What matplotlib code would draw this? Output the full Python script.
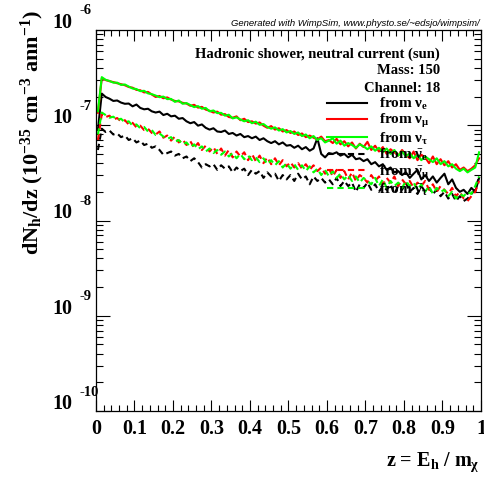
#!/usr/bin/env python3
"""
WimpSim-style plot: hadronic shower spectrum dN_h/dz for neutral current
events from the sun, split by neutrino flavour.
"""

import numpy as np
import matplotlib
matplotlib.use("Agg")
import matplotlib.pyplot as plt
from matplotlib.ticker import FixedLocator, NullFormatter
from matplotlib.transforms import blended_transform_factory, offset_copy

plt.rcParams["font.family"] = ["Liberation Serif", "DejaVu Serif"]
plt.rcParams["font.weight"] = "bold"
plt.rcParams["mathtext.fontset"] = "custom"
plt.rcParams["mathtext.rm"] = "Liberation Serif:bold"
plt.rcParams["mathtext.it"] = "Liberation Serif:bold"
plt.rcParams["mathtext.bf"] = "Liberation Serif:bold"

# z bin centres (100 bins from 0 to 1)
z = np.arange(100) * 0.01 + 0.005

# dN/dz values in units of 1e-8 (10^-35 cm^-3 ann^-1)
scale = 1e-8

nu_e = [9.0, 21.5, 19.8, 19.0, 18.0, 18.2, 17.3, 16.8, 16.9, 15.8,
        16.5, 15.2, 14.7, 14.9, 14.0, 13.6, 13.9, 12.8, 13.2, 12.4,
        12.6, 11.7, 11.9, 11.0, 10.5, 10.8, 9.9, 10.2, 9.4, 9.0,
        9.3, 8.6, 8.5, 8.8, 8.1, 8.3, 7.8, 8.1, 7.5, 7.7,
        7.3, 7.6, 7.0, 7.3, 6.8, 6.5, 6.8, 6.3, 6.6, 6.1,
        6.2, 5.8, 6.1, 5.6, 5.9, 5.4, 5.7, 7.3, 5.0, 4.6,
        5.1, 5.0, 5.2, 4.8, 5.0, 4.6, 4.9, 4.4, 4.5, 4.2,
        4.4, 3.9, 4.1, 3.7, 3.9, 3.4, 3.6, 3.2, 3.3, 3.0,
        3.2, 2.8, 3.1, 3.4, 2.7, 3.0, 2.6, 2.9, 2.5, 2.8,
        3.1, 2.4, 2.7, 2.2, 2.0, 2.1, 1.9, 2.2, 2.0, 2.8]

nu_mu = [13.5, 31.0, 29.8, 29.0, 28.4, 27.6, 27.0, 26.3, 25.2, 24.8,
         23.5, 23.3, 22.1, 22.4, 21.0, 19.8, 20.3, 19.2, 19.6, 18.6,
         18.0, 17.8, 17.2, 16.9, 16.0, 16.4, 15.3, 15.6, 14.6, 14.2,
         13.6, 13.9, 12.9, 13.1, 12.2, 12.0, 12.4, 11.3, 11.7, 10.8,
         11.0, 10.4, 10.7, 9.9, 9.4, 9.8, 9.0, 9.3, 8.6, 8.9,
         8.3, 8.6, 7.9, 8.2, 7.5, 7.8, 7.4, 7.1, 7.6, 6.8,
         7.0, 6.5, 7.2, 6.3, 6.8, 6.0, 6.6, 5.7, 6.4, 5.9,
         6.7, 5.5, 6.1, 5.3, 5.9, 5.0, 5.6, 5.2, 4.8, 5.5,
         4.9, 4.5, 5.3, 4.3, 4.9, 4.6, 4.0, 4.7, 3.9, 4.4,
         3.8, 4.2, 3.6, 3.9, 3.4, 3.6, 3.3, 3.5, 3.8, 4.5]

nu_tau = [14.0, 32.0, 30.0, 29.2, 28.0, 28.0, 26.5, 26.8, 25.5, 24.3,
          24.0, 22.8, 23.0, 21.6, 21.2, 20.5, 19.7, 20.0, 18.8, 18.9,
          17.6, 18.2, 16.8, 17.1, 16.3, 15.5, 15.9, 14.9, 15.2, 14.0,
          14.3, 13.4, 13.5, 12.6, 12.9, 11.8, 12.1, 11.5, 11.0, 11.3,
          10.5, 10.9, 10.1, 10.3, 9.6, 9.2, 9.5, 8.8, 9.1, 8.4,
          8.7, 8.1, 8.4, 7.7, 8.0, 7.3, 7.7, 7.0, 7.3, 6.6,
          6.9, 7.3, 6.4, 6.9, 6.1, 6.5, 6.2, 5.8, 6.3, 6.0,
          5.6, 6.0, 5.4, 5.8, 5.2, 5.7, 5.0, 5.5, 4.8, 5.3,
          4.7, 5.1, 4.5, 4.9, 4.3, 4.7, 4.4, 4.1, 4.5, 3.9,
          4.2, 3.7, 3.9, 3.5, 3.3, 3.5, 3.2, 3.4, 3.6, 5.2]

nubar_e = [5.5, 9.2, 8.5, 8.8, 8.0, 8.2, 7.5, 7.8, 7.0, 7.3,
           6.6, 6.9, 6.2, 6.4, 5.8, 6.0, 5.5, 4.9, 5.1, 5.3,
           4.8, 5.0, 4.5, 4.7, 4.2, 4.5, 4.1, 3.6, 3.9, 3.7,
           3.9, 3.4, 3.8, 3.5, 3.7, 3.2, 3.6, 3.3, 3.5, 3.0,
           3.4, 3.1, 3.3, 2.8, 3.2, 2.9, 3.1, 2.6, 3.0, 2.7,
           3.0, 2.6, 3.1, 2.7, 2.9, 2.4, 2.9, 2.6, 2.8, 2.5,
           2.7, 2.4, 2.8, 2.3, 2.6, 2.3, 2.5, 2.0, 2.4, 2.2,
           2.5, 2.1, 2.4, 2.0, 2.3, 2.1, 2.4, 1.9, 2.3, 2.1,
           2.5, 2.0, 2.2, 1.9, 2.3, 2.0, 2.2, 1.9, 2.1, 1.8,
           2.0, 1.7, 1.9, 1.6, 1.8, 1.6, 1.7, 1.9, 2.1, 2.9]

nubar_mu = [7.0, 13.0, 12.2, 12.6, 11.5, 11.9, 11.0, 11.3, 10.2, 10.6,
            9.5, 9.9, 8.9, 9.2, 8.3, 8.0, 8.6, 7.4, 7.8, 6.9,
            7.6, 6.6, 7.1, 6.2, 6.8, 5.8, 6.5, 5.5, 6.1, 5.3,
            5.9, 5.0, 5.7, 4.8, 5.5, 4.6, 5.3, 4.7, 5.2, 4.3,
            5.0, 4.2, 4.8, 4.0, 4.6, 3.9, 4.5, 3.8, 4.3, 3.7,
            4.1, 3.6, 4.0, 3.5, 3.9, 3.4, 3.8, 3.3, 3.6, 3.1,
            3.5, 2.9, 3.4, 2.8, 3.3, 2.7, 3.2, 2.6, 3.0, 2.8,
            2.5, 3.0, 2.6, 2.9, 2.4, 2.8, 2.5, 2.9, 2.3, 2.7,
            2.4, 2.6, 2.2, 2.5, 2.3, 2.6, 2.1, 2.4, 2.0, 2.3,
            2.1, 1.9, 2.2, 1.8, 2.0, 1.7, 1.6, 1.8, 2.0, 2.6]

nubar_tau = [8.0, 13.6, 12.8, 12.0, 12.3, 11.4, 11.7, 10.7, 11.0, 9.9,
             10.2, 9.3, 9.6, 8.6, 8.9, 7.9, 8.2, 7.6, 7.2, 7.5,
             6.7, 7.0, 6.3, 6.6, 5.9, 6.3, 5.6, 6.0, 5.3, 5.7,
             5.1, 5.5, 4.9, 5.3, 4.7, 5.1, 4.5, 5.0, 4.4, 4.8,
             4.3, 4.6, 4.1, 4.5, 3.9, 4.3, 3.8, 4.2, 3.6, 4.0,
             3.5, 3.9, 3.4, 3.8, 3.3, 3.7, 3.2, 3.5, 3.0, 3.4,
             2.9, 3.3, 2.8, 3.1, 2.7, 3.0, 2.6, 2.9, 2.5, 2.8,
             2.6, 2.4, 2.8, 2.3, 2.7, 2.2, 2.6, 2.3, 2.5, 2.2,
             2.6, 2.3, 2.5, 2.1, 2.4, 2.0, 2.3, 1.9, 2.2, 2.0,
             2.1, 1.8, 2.0, 1.7, 1.9, 1.8, 2.0, 1.9, 2.3, 2.9]

series = [
    (nu_e, "black", "-", r"from $\nu_{e}$"),
    (nu_mu, "#ff0000", "-", r"from $\nu_{\mu}$"),
    (nu_tau, "#00ff00", "-", r"from $\nu_{\tau}$"),
    (nubar_e, "black", "--", r"from $\bar{\nu}_{e}$"),
    (nubar_mu, "#ff0000", "--", r"from $\bar{\nu}_{\mu}$"),
    (nubar_tau, "#00ff00", "--", r"from $\bar{\nu}_{\tau}$"),
]

fig = plt.figure(figsize=(4.85, 4.79), dpi=100)
ax = fig.add_axes([96 / 485, 68 / 479, 385 / 485, 381 / 479])

for values, color, ls, label in series:
    line, = ax.plot(z, np.array(values) * scale, color=color, linestyle=ls,
                    lw=1.5, label=label)
    if ls == "--":
        line.set_dashes((3, 2))

ax.set_yscale("log")
ax.set_xlim(0, 1)
ax.set_ylim(1e-10, 1e-6)

# ROOT-like ticks: inside, on all four sides
ax.xaxis.set_major_locator(FixedLocator(np.arange(0, 1.01, 0.1)))
ax.xaxis.set_minor_locator(FixedLocator(np.arange(0, 1.001, 0.02)))
ax.set_xticklabels(["0", "0.1", "0.2", "0.3", "0.4", "0.5", "0.6", "0.7",
                    "0.8", "0.9", "1"])
ax.tick_params(axis="x", which="major", direction="in", length=8, width=0.8,
               top=True, labelsize=14.5, pad=6)
ax.tick_params(axis="x", which="minor", direction="in", length=4, width=0.8,
               top=True)
ax.yaxis.set_minor_locator(FixedLocator(
    [m * 10.0 ** e for e in range(-10, -6) for m in range(2, 10)]))
ax.yaxis.set_minor_formatter(NullFormatter())
ax.yaxis.set_major_formatter(NullFormatter())
ax.tick_params(axis="y", which="major", direction="in", length=10, width=0.8,
               right=True)
ax.tick_params(axis="y", which="minor", direction="in", length=5, width=0.8,
               right=True)
for s in ax.spines.values():
    s.set_linewidth(0.9)

# y tick labels drawn as "10" with a raised exponent, ROOT style
trans = blended_transform_factory(ax.transAxes, ax.transData)
for e in range(-10, -5):
    t_base = offset_copy(trans, fig=fig, x=0, y=7, units="dots")
    ax.text(-0.062, 10.0 ** e, "10", transform=t_base, ha="right",
            va="center", fontsize=14.5, fontweight="bold")
    t_exp = offset_copy(trans, fig=fig, x=0, y=19, units="dots")
    ax.text(-0.042, 10.0 ** e, str(e), transform=t_exp, ha="left",
            va="center", fontsize=10.5, fontweight="bold")

fig.text(32 / 485, 1 - 10 / 479,
         r"dN$_{\mathrm{h}}$/dz (10$^{-35}$ cm$^{-3}$ ann$^{-1}$)",
         rotation=90, ha="center", va="top", fontsize=16, fontweight="bold")
fig.text(480 / 485, 1 - 462 / 479, r"z = E$_{\mathrm{h}}$ / m$_{\chi}$",
         ha="right", va="center", fontsize=14.5, fontweight="bold")

fig.text(480 / 485, 1 - 23 / 479,
         "Generated with WimpSim, www.physto.se/~edsjo/wimpsim/",
         ha="right", va="center", fontsize=6.8, style="italic",
         family=["Liberation Sans", "DejaVu Sans"], fontweight="normal")

for txt, ypx in [("Hadronic shower, neutral current (sun)", 54),
                 ("Mass: 150", 71), ("Channel: 18", 88)]:
    fig.text(440 / 485, 1 - ypx / 479, txt, ha="right", va="center",
             fontsize=10.5, fontweight="bold")

ax.legend(loc="upper left", bbox_to_anchor=((327 - 96) / 385, 1 - 66 / 381),
          frameon=False, fontsize=11, handlelength=2.6, handletextpad=0.8,
          labelspacing=0.02, borderpad=0, borderaxespad=0)

fig.savefig("out.png", dpi=100)
